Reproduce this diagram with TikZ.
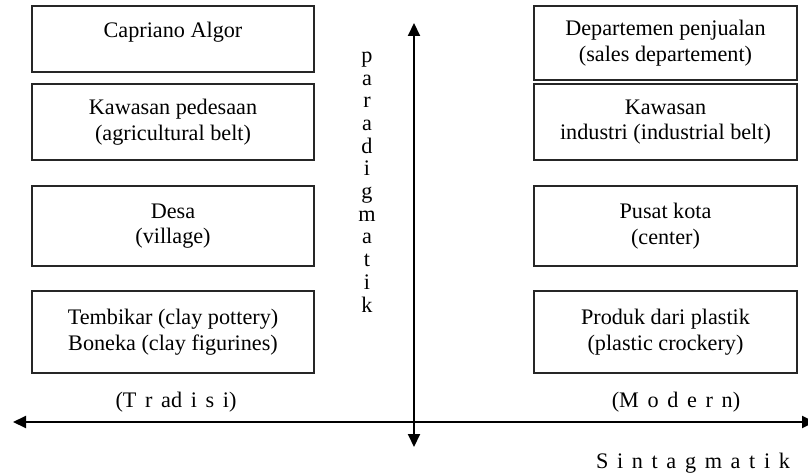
\documentclass[tikz,border=0pt]{standalone}
\usepackage{fontspec}
\setmainfont{Liberation Serif}
\usepackage{tikz}
\usetikzlibrary{arrows.meta, positioning}

\newcommand{\widespace}{\spaceskip=0.39em\relax}

\begin{document}
\begin{tikzpicture}[
    x=0.5pt, y=-0.5pt,
    font=\fontsize{11.1}{12.8}\selectfont,
    box/.style={rectangle, draw=black!85, line width=1pt, outer sep=0pt, align=center},
    leftbox/.style={box, minimum width=141pt},
    rightbox/.style={box, minimum width=131.5pt},
    axis/.style={line width=1pt, {Triangle[length=6.5pt,width=6pt]}-{Triangle[length=6.5pt,width=6pt]}}
]
\useasboundingbox (0,0) rectangle (808,476);

% tradisi side
\node[leftbox, minimum height=33pt] (capriano) at (173,39) {Capriano Algor\\[-4pt] \mbox{}};
\node[leftbox, minimum height=38pt, below=6pt of capriano] (pedesaan) {Kawasan pedesaan\\(agricultural belt)};
\node[leftbox, minimum height=40pt, below=13pt of pedesaan] (desa) {Desa\\(village)};
\node[leftbox, minimum height=41pt, below=12.5pt of desa] (tembikar) {Tembikar (clay pottery)\\Boneka (clay figurines)};

% modern side
\node[rightbox, minimum height=37pt] (penjualan) at (665.5,43) {Departemen penjualan\\(sales departement)};
\node[rightbox, minimum height=38pt, right=110pt of pedesaan] (industri) {Kawasan\\industri (industrial belt)};
\node[rightbox, minimum height=40pt, right=110pt of desa] (pusat) {Pusat kota\\(center)};
\node[rightbox, minimum height=41pt, right=110pt of tembikar] (plastik) {Produk dari plastik\\(plastic crockery)};

% axes
\coordinate (vtop) at (414,23);
\coordinate (vbot) at (414,447);
\coordinate (hleft) at (13,422);
\coordinate (hright) at (815,422);
\draw[axis] (vbot) -- (vtop);
\draw[axis] (hleft) -- (hright);

\node[align=center, font=\fontsize{11.1}{11.35}\selectfont] (paradigmatik) at (367,182)
    {p\\a\\r\\a\\d\\i\\g\\m\\a\\t\\i\\k};
\node (tradisi) at (176,402) {\widespace (T r ad i s i)};
\node (modern) at (676,402) {\widespace (M o d e r n)};
\node (sintagmatik) at (693,463) {\widespace S i n t a g m a t i k};

\end{tikzpicture}
\end{document}
